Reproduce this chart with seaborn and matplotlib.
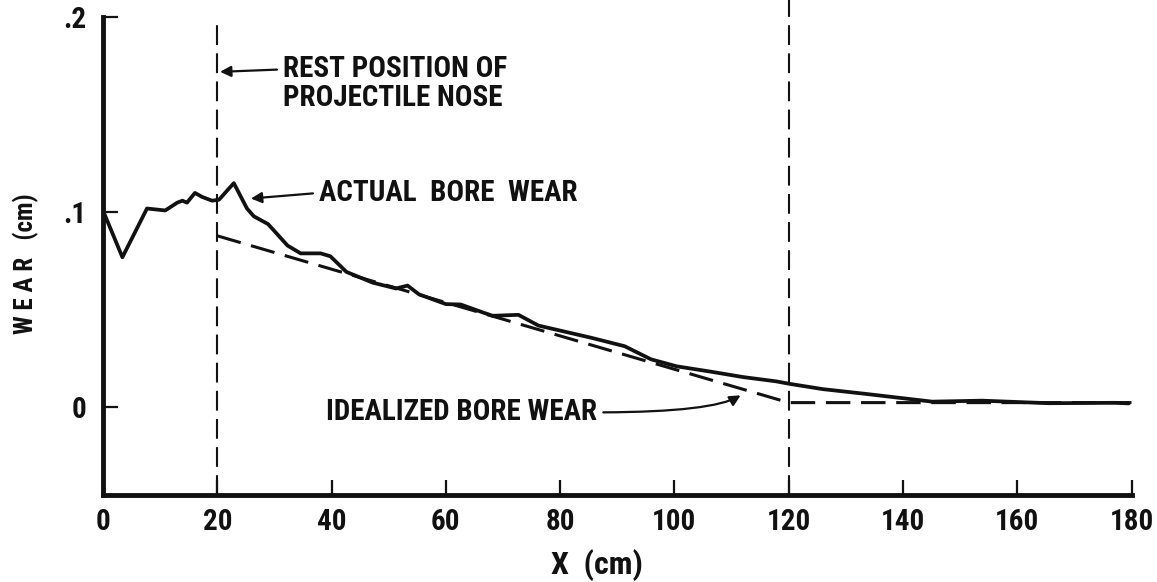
import matplotlib
matplotlib.use("Agg")
import matplotlib.pyplot as plt
from matplotlib import font_manager
import seaborn as sns

# Values
actual_x = [0, 3.4, 7.7, 10.9, 13.0, 13.9, 14.7, 16.1, 17.3, 19.1, 20.3, 22.9, 25.2,
            26.4, 28.9, 32.3, 34.6, 38.1, 39.8, 42.6, 47.2, 51.3, 53.3, 55.3, 60.0,
            62.6, 66.5, 68.2, 72.7, 76.2, 85.5, 91.3, 95.9, 100.4, 106.3, 112.0,
            117.8, 120.2, 126.0, 133.4, 145.1, 153.8, 165.5, 177.1, 179.5]
actual_wear = [0.101, 0.077, 0.102, 0.101, 0.105, 0.106, 0.105, 0.110, 0.108, 0.106,
               0.1065, 0.115, 0.102, 0.098, 0.094, 0.083, 0.079, 0.079, 0.0775,
               0.0695, 0.064, 0.061, 0.0625, 0.058, 0.053, 0.0528, 0.0487, 0.047,
               0.0475, 0.042, 0.0357, 0.0314, 0.0247, 0.0211, 0.0184, 0.0156, 0.0134,
               0.0121, 0.0094, 0.0070, 0.0030, 0.0035, 0.0022, 0.0024, 0.0021]

ideal_x = [20, 120, 180]
ideal_wear = [0.088, 0.0025, 0.0025]

marker_x = [20, 120]   # vertical dashed reference lines

x_ticks = [0, 20, 40, 60, 80, 100, 120, 140, 160, 180]
y_ticks = [0, 0.1, 0.2]
y_tick_labels = ["0", ".1", ".2"]

sns.set_theme(style="ticks")

# a narrow lettering face if one is installed
installed = {f.name for f in font_manager.fontManager.ttflist}
narrow = [f for f in ["Liberation Sans Narrow", "Roboto Condensed",
                      "DejaVu Sans Condensed", "Roboto"] if f in installed]
plt.rcParams["font.family"] = narrow[:1] + ["DejaVu Sans"]
plt.rcParams["font.stretch"] = "condensed"
plt.rcParams["font.weight"] = "bold"

ink = "#111111"
fig = plt.figure(figsize=(11.57, 5.82), dpi=100)
ax = fig.add_axes([0.089, 0.149, 0.889, 0.838])

# curves
sns.lineplot(x=actual_x, y=actual_wear, ax=ax, color=ink, lw=2.7, sort=False)
sns.lineplot(x=ideal_x, y=ideal_wear, ax=ax, color=ink, lw=2.2,
             linestyle=(0, (8, 3.5)), sort=False)

# rest position / reference lines
ax.vlines(marker_x[0], -0.045, 0.2, color=ink, lw=1.5, linestyle=(0, (9.5, 4)))
ax.vlines(marker_x[1], -0.045, 0.212, color=ink, lw=1.5, linestyle=(0, (9.5, 4)),
          clip_on=False)

ax.set_xlim(0, 180)
ax.set_ylim(-0.045, 0.205)
ax.set_xticks(x_ticks)
ax.set_yticks(y_ticks, labels=y_tick_labels)

for side in ["top", "right"]:
    ax.spines[side].set_visible(False)
for side in ["left", "bottom"]:
    ax.spines[side].set_linewidth(3.5)
    ax.spines[side].set_color(ink)
    ax.spines[side].set_capstyle("projecting")
ax.spines["left"].set_bounds(-0.045, 0.2)

ax.tick_params(axis="both", direction="in", length=11, width=1.6, color=ink,
               labelsize=21, labelcolor=ink)
ax.tick_params(axis="x", pad=9)
ax.tick_params(axis="y", pad=12)

ax.set_xlabel("X  (cm)", fontsize=23, color=ink, fontweight="bold")
ax.xaxis.set_label_coords(0.48, -0.11)
ax.set_ylabel("W E A R   (cm)", fontsize=18, color=ink, fontweight="bold")
ax.yaxis.set_label_coords(-0.062, 0.475)

arrow = dict(arrowstyle="-|>", color=ink, lw=1.6, mutation_scale=16)

ax.annotate("REST POSITION OF\nPROJECTILE NOSE", xy=(20, 0.172), xytext=(31.5, 0.166),
            fontsize=21, color=ink, ha="left", va="center", linespacing=1.05,
            arrowprops=dict(arrow, relpos=(0, 0.75)))
ax.annotate("ACTUAL  BORE  WEAR", xy=(25.4, 0.107), xytext=(37.8, 0.110),
            fontsize=21, color=ink, ha="left", va="center",
            arrowprops=dict(arrow, relpos=(0, 0.5)))
ax.annotate("IDEALIZED BORE WEAR", xy=(112, 0.007), xytext=(86.5, -0.0025),
            fontsize=21, color=ink, ha="right", va="center",
            arrowprops=dict(arrow, relpos=(1, 0.5),
                            connectionstyle="angle3,angleA=0,angleB=35"))

fig.savefig("out.png", dpi=100)
